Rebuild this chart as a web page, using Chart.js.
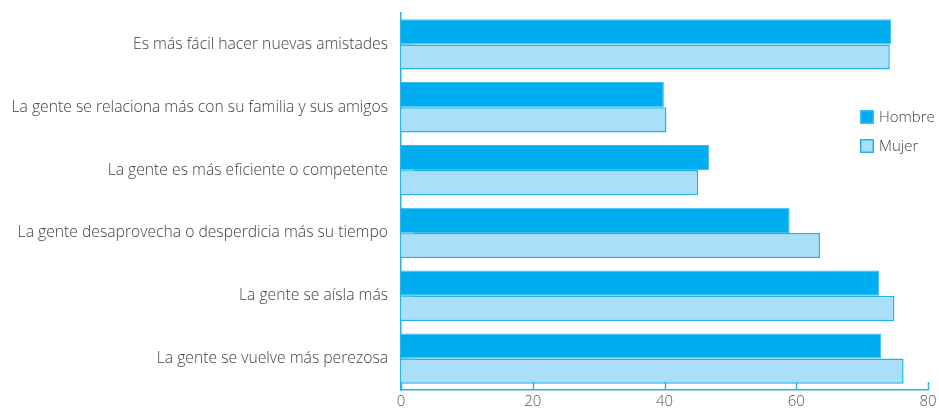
<!DOCTYPE html>
<html><head><meta charset="utf-8">
<script src="https://cdn.jsdelivr.net/npm/chart.js@4/dist/chart.umd.min.js"></script>
<style>html,body{margin:0;padding:0;background:#fff}#wrap{width:939px;height:410px}</style>
</head><body><div id="wrap"><canvas id="c" width="939" height="410"></canvas></div>
<script>
const categories = [
  "Es más fácil hacer nuevas amistades",
  "La gente se relaciona más con su familia y sus amigos",
  "La gente es más eficiente o competente",
  "La gente desaprovecha o desperdicia más su tiempo",
  "La gente se aísla más",
  "La gente se vuelve más perezosa"
];
const seriesNames = ["Hombre", "Mujer"];
const hombre = [74.4, 39.9, 46.8, 59.0, 72.6, 72.9];
const mujer = [74.2, 40.3, 45.1, 63.6, 74.9, 76.3];
const xTicks = [0, 20, 40, 60, 80];

const FONT = "'Open Sans'";
const WEIGHT = 300;
const TEXT = "#3f3f3f";
const AXIS = "#29B3EC";

const innerTicks = {
  id: "innerTicks",
  afterDatasetsDraw(chart) {
    const ctx = chart.ctx, a = chart.chartArea;
    const xs = chart.scales.x, ys = chart.scales.y;
    ctx.save();
    ctx.strokeStyle = AXIS; ctx.lineWidth = 1.5;
    xTicks.forEach(v => {
      const px = Math.round(xs.getPixelForValue(v)) + 0.5;
      ctx.beginPath(); ctx.moveTo(px, a.bottom); ctx.lineTo(px, a.bottom - 8); ctx.stroke();
    });
    ctx.strokeStyle = "#6CCBF2"; ctx.lineWidth = 1.5;
    categories.forEach((c, i) => {
      const py = ys.getPixelForValue(i);
      ctx.beginPath(); ctx.moveTo(a.left, py); ctx.lineTo(a.left + 13, py); ctx.stroke();
    });
    ctx.restore();
  }
};

const customLegend = {
  id: "customLegend",
  afterDraw(chart) {
    const ctx = chart.ctx;
    const ys = [117, 146];
    ctx.save();
    chart.data.datasets.forEach((ds, i) => {
      const y = ys[i];
      ctx.fillStyle = ds.backgroundColor;
      ctx.fillRect(860, y - 7, 14, 14);
      ctx.strokeStyle = ds.borderColor; ctx.lineWidth = 1.5;
      ctx.strokeRect(860.75, y - 6.25, 12.5, 12.5);
      ctx.fillStyle = TEXT;
      ctx.font = WEIGHT + " 15px " + FONT;
      ctx.textBaseline = "middle";
      ctx.fillText(ds.label, 879, y + 1);
    });
    ctx.restore();
  }
};

new Chart(document.getElementById("c"), {
  type: "bar",
  data: {
    labels: categories,
    datasets: [
      { label: seriesNames[0], data: hombre, backgroundColor: "#00AEEF", borderColor: "#3CBDF1", borderWidth: 1, barPercentage: 1.0, categoryPercentage: 0.8 },
      { label: seriesNames[1], data: mujer, backgroundColor: "#A9DFF8", borderColor: "#1FB2EE", borderWidth: 1.5, barPercentage: 1.0, categoryPercentage: 0.8 }
    ]
  },
  options: {
    indexAxis: "y",
    responsive: false,
    animation: false,
    devicePixelRatio: 1,
    layout: { padding: { top: 13, right: 11, left: 0, bottom: 0 } },
    plugins: { legend: { display: false }, tooltip: { enabled: false } },
    scales: {
      x: {
        min: 0, max: 80,
        afterBuildTicks(s) { s.ticks = xTicks.map(v => ({ value: v })); },
        afterFit(s) { s.height = 20; s.paddingLeft = 0; s.paddingRight = 0; },
        grid: { display: false, drawOnChartArea: false, drawTicks: false },
        border: { display: true, color: AXIS, width: 1.5 },
        ticks: { color: "#555", font: { family: FONT, size: 15, weight: WEIGHT }, padding: 3 }
      },
      y: {
        afterFit(s) { s.width = 401; s.paddingTop = 0; s.paddingBottom = 0; },
        grid: { display: false, drawOnChartArea: false, drawTicks: false },
        border: { display: true, color: AXIS, width: 1.5 },
        ticks: { color: TEXT, font: { family: FONT, size: 15.7, weight: WEIGHT }, padding: 13, autoSkip: false }
      }
    }
  },
  plugins: [innerTicks, customLegend]
});
</script></body></html>
